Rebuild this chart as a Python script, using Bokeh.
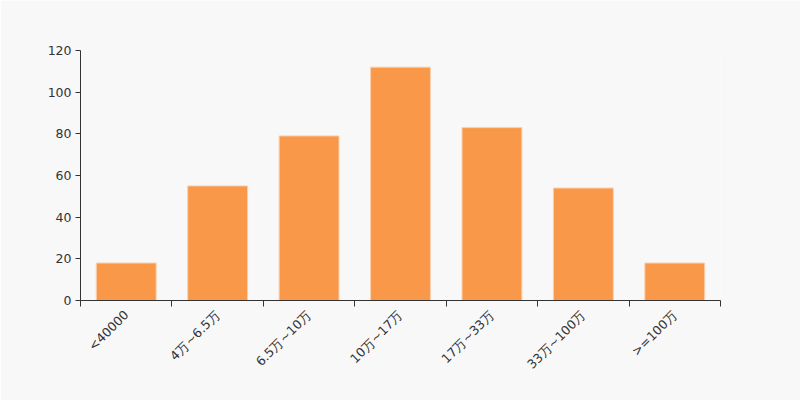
import math
from bokeh.plotting import figure
from bokeh.models import FixedTicker, Range1d
from bokeh.embed import file_html
from bokeh.resources import INLINE

categories = ["<40000", "4万~6.5万", "6.5万~10万", "10万~17万", "17万~33万", "33万~100万", ">=100万"]
values = [18, 55, 79, 112, 83, 54, 18]
y_ticks = [0, 20, 40, 60, 80, 100, 120]

n = len(categories)
centers = [i + 0.5 for i in range(n)]

p = figure(width=800, height=400, output_backend="svg", toolbar_location=None,
           x_range=Range1d(0, n), y_range=Range1d(0, 120),
           background_fill_color="#f8f8f8", border_fill_color="#f8f8f8",
           min_border_left=80, min_border_right=80, min_border_top=50, min_border_bottom=100)
p.outline_line_color = None
p.grid.visible = False

p.vbar(x=centers, top=values, width=0.655, bottom=0, fill_color="#f99848", line_color="#fbd0b0", line_width=1)

xa = p.xaxis[0]
xa.ticker = FixedTicker(ticks=centers, minor_ticks=list(range(n + 1)))
xa.major_label_overrides = {c: lab for c, lab in zip(centers, categories)}
xa.major_tick_out = 0
xa.major_tick_in = 0
xa.minor_tick_out = 6
xa.minor_tick_in = 0
xa.minor_tick_line_color = "#333333"
xa.axis_line_color = "#333333"
xa.major_label_orientation = math.pi / 4
xa.major_label_text_font = "DejaVu Sans"
xa.major_label_text_font_size = "12.5px"
xa.major_label_text_color = "#333333"
xa.major_label_standoff = 6

ya = p.yaxis[0]
ya.ticker = FixedTicker(ticks=y_ticks)
ya.minor_tick_line_color = None
ya.major_tick_out = 5
ya.major_tick_in = 0
ya.axis_line_color = "#333333"
ya.major_tick_line_color = "#333333"
ya.major_label_text_font = "DejaVu Sans"
ya.major_label_text_font_size = "12.5px"
ya.major_label_text_color = "#333333"
ya.major_label_standoff = 4

html = file_html(p, INLINE)
html = html.replace("<body>", '<body style="background:#f8f8f8">', 1)
open("out.html", "w").write(html)
